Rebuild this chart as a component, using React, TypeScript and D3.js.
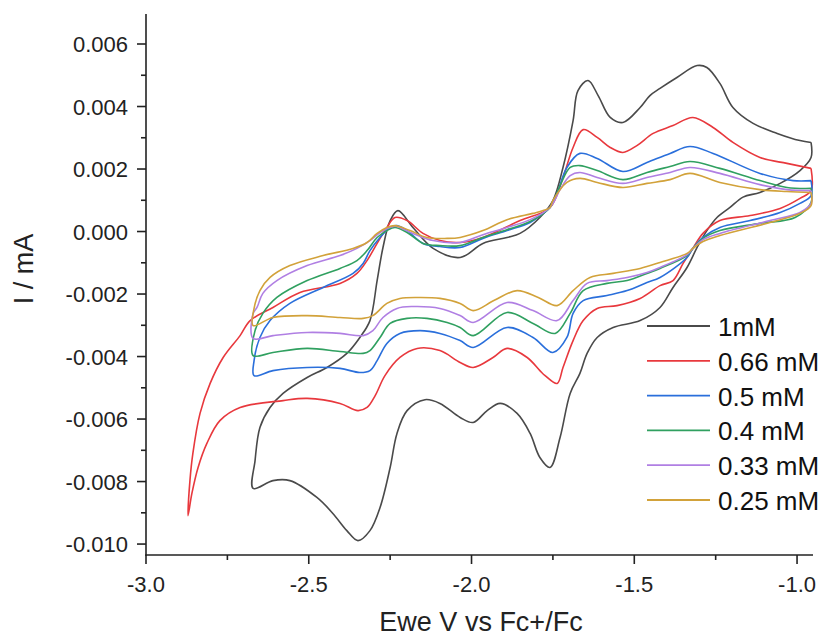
import React from "react";
import * as d3 from "d3";

type Pt = [number, number];

const seriesNames = ["1mM", "0.66 mM", "0.5 mM", "0.4 mM", "0.33 mM", "0.25 mM"];
const seriesColors = ["#4a4a4a", "#e8383d", "#2a6fdb", "#30a060", "#b07fe3", "#d2a23a"];

const xTicks = [-3.0, -2.5, -2.0, -1.5, -1.0];
const xMinor = [-2.75, -2.25, -1.75, -1.25];
const yTicks = [-0.01, -0.008, -0.006, -0.004, -0.002, 0, 0.002, 0.004, 0.006];
const yMinor = [-0.009, -0.007, -0.005, -0.003, -0.001, 0.001, 0.003, 0.005];

const cv1mM: Pt[] = [
  [-0.957, 0.00285], [-0.957, 0.00237], [-0.991, 0.00195], [-1.052, 0.00154], [-1.114, 0.00125],
  [-1.166, 0.0011], [-1.206, 0.00077], [-1.246, 0.00045], [-1.277, 0.00003], [-1.307, -0.00051],
  [-1.338, -0.00115], [-1.381, -0.00179], [-1.421, -0.00243], [-1.482, -0.00285], [-1.565, -0.00307],
  [-1.614, -0.00339], [-1.645, -0.0039], [-1.667, -0.00454], [-1.697, -0.00518], [-1.728, -0.00659],
  [-1.759, -0.00755], [-1.79, -0.00723], [-1.82, -0.00646], [-1.86, -0.00582], [-1.912, -0.0055],
  [-1.952, -0.00573], [-1.995, -0.00611], [-2.035, -0.00595], [-2.097, -0.0055], [-2.143, -0.00538],
  [-2.198, -0.00573], [-2.229, -0.00646], [-2.25, -0.00755], [-2.281, -0.00883], [-2.312, -0.00957],
  [-2.349, -0.00989], [-2.383, -0.00957], [-2.426, -0.00902], [-2.475, -0.00851], [-2.558, -0.00797],
  [-2.61, -0.00797], [-2.671, -0.00822],
  [-2.665, -0.00733], [-2.65, -0.00627], [-2.619, -0.00563], [-2.579, -0.00518], [-2.505, -0.00467],
  [-2.444, -0.00435], [-2.383, -0.0039], [-2.343, -0.00339], [-2.312, -0.00285], [-2.29, -0.00157],
  [-2.272, -0.00051], [-2.25, 0.00035], [-2.226, 0.00067], [-2.18, 0.00013], [-2.118, -0.00054],
  [-2.035, -0.00083], [-1.965, -0.00038], [-1.891, -0.00019], [-1.851, -0.00006], [-1.79, 0.00045],
  [-1.75, 0.00099], [-1.719, 0.00205], [-1.688, 0.00355], [-1.673, 0.00451], [-1.642, 0.00483],
  [-1.611, 0.00435], [-1.574, 0.00365], [-1.535, 0.00349], [-1.482, 0.00397], [-1.452, 0.00435],
  [-1.421, 0.00458], [-1.369, 0.00493], [-1.307, 0.00531], [-1.277, 0.00525], [-1.237, 0.00474],
  [-1.197, 0.00397], [-1.135, 0.00346], [-1.061, 0.00314], [-0.991, 0.00291], [-0.957, 0.00285],
];

const cv066mM: Pt[] = [
  [-0.957, 0.00202], [-0.957, 0.00131], [-0.991, 0.00106], [-1.052, 0.00074], [-1.144, 0.00051],
  [-1.237, 0.00035], [-1.289, -0.00006], [-1.32, -0.00054], [-1.35, -0.00102], [-1.381, -0.00157],
  [-1.421, -0.00173], [-1.482, -0.00214], [-1.553, -0.00237], [-1.614, -0.00246], [-1.657, -0.00285],
  [-1.688, -0.00349], [-1.719, -0.00435], [-1.737, -0.00486], [-1.774, -0.00461], [-1.79, -0.00445],
  [-1.829, -0.00403], [-1.891, -0.00374], [-1.934, -0.00403], [-1.995, -0.00435], [-2.035, -0.00419],
  [-2.097, -0.00381], [-2.167, -0.00374], [-2.22, -0.00403], [-2.266, -0.00461], [-2.296, -0.00525],
  [-2.321, -0.00563], [-2.349, -0.00573], [-2.404, -0.0055], [-2.505, -0.00534], [-2.579, -0.00541],
  [-2.711, -0.00563], [-2.773, -0.00605], [-2.813, -0.00678], [-2.84, -0.00755], [-2.859, -0.00838],
  [-2.871, -0.00909],
  [-2.865, -0.00797], [-2.856, -0.0071], [-2.834, -0.00582], [-2.803, -0.00486], [-2.763, -0.00403],
  [-2.711, -0.00333], [-2.68, -0.00285], [-2.61, -0.00243], [-2.527, -0.00195], [-2.404, -0.00166],
  [-2.352, -0.00134], [-2.321, -0.00093], [-2.29, -0.00038], [-2.26, 0.00013], [-2.235, 0.00045],
  [-2.198, 0.00035], [-2.149, -0.00006], [-2.097, -0.00029], [-2.035, -0.00035], [-1.965, -0.00019],
  [-1.851, 0.00035], [-1.759, 0.00077], [-1.719, 0.00173], [-1.688, 0.00269], [-1.657, 0.00326],
  [-1.614, 0.00301], [-1.574, 0.00269], [-1.535, 0.00253], [-1.492, 0.00275], [-1.442, 0.00314],
  [-1.381, 0.00339], [-1.32, 0.00365], [-1.258, 0.00333], [-1.197, 0.00285], [-1.114, 0.00237],
  [-1.031, 0.00218], [-0.957, 0.00202],
];

const cv05mM: Pt[] = [
  [-0.957, 0.00163], [-0.957, 0.00115], [-0.991, 0.0009], [-1.052, 0.00061], [-1.144, 0.00035],
  [-1.237, 0.00013], [-1.289, -0.00019], [-1.32, -0.00054], [-1.338, -0.00083], [-1.421, -0.00147],
  [-1.461, -0.00163], [-1.522, -0.00189], [-1.584, -0.00205], [-1.657, -0.00221], [-1.688, -0.00262],
  [-1.707, -0.00339], [-1.75, -0.00387], [-1.811, -0.00339], [-1.891, -0.00307], [-1.995, -0.00371],
  [-2.035, -0.00349], [-2.097, -0.00326], [-2.158, -0.00317], [-2.22, -0.00326], [-2.26, -0.00358],
  [-2.29, -0.00413], [-2.312, -0.00445], [-2.343, -0.00451], [-2.404, -0.00438], [-2.505, -0.00435],
  [-2.61, -0.00445], [-2.668, -0.00461],
  [-2.668, -0.00413], [-2.65, -0.00339], [-2.619, -0.00285], [-2.558, -0.0023], [-2.456, -0.00179],
  [-2.364, -0.00134], [-2.333, -0.00102], [-2.312, -0.00061], [-2.281, -0.00019], [-2.25, 0.00013],
  [-2.229, 0.00019], [-2.198, 0.00003], [-2.149, -0.00038], [-2.097, -0.00048], [-2.035, -0.00051],
  [-1.965, -0.00022], [-1.891, 0.00003], [-1.82, 0.00029], [-1.78, 0.00058], [-1.759, 0.00077],
  [-1.737, 0.00122], [-1.707, 0.00205], [-1.667, 0.0025], [-1.614, 0.00234], [-1.535, 0.00192],
  [-1.461, 0.00221], [-1.39, 0.0025], [-1.329, 0.00272], [-1.258, 0.0025], [-1.114, 0.00186],
  [-1.012, 0.00163], [-0.957, 0.00163],
];

const cv04mM: Pt[] = [
  [-0.957, 0.00138], [-0.957, 0.00093], [-1.006, 0.00045], [-1.114, 0.00026], [-1.237, 0.00003],
  [-1.289, -0.00022], [-1.32, -0.00054], [-1.338, -0.00077], [-1.421, -0.00118], [-1.461, -0.00134],
  [-1.522, -0.00157], [-1.584, -0.00166], [-1.657, -0.00189], [-1.697, -0.00262], [-1.743, -0.00326],
  [-1.811, -0.00294], [-1.891, -0.00259], [-1.995, -0.00333], [-2.035, -0.00307], [-2.075, -0.00291],
  [-2.137, -0.00278], [-2.198, -0.00278], [-2.25, -0.00294], [-2.281, -0.00339], [-2.312, -0.00381],
  [-2.333, -0.0039], [-2.404, -0.00384], [-2.505, -0.00374], [-2.61, -0.00387], [-2.671, -0.00397],
  [-2.665, -0.00317], [-2.641, -0.00262], [-2.598, -0.00211], [-2.505, -0.00157], [-2.404, -0.00118],
  [-2.352, -0.00093], [-2.321, -0.00061], [-2.29, -0.00019], [-2.26, 0.00003], [-2.235, 0.00013],
  [-2.198, -0.00003], [-2.149, -0.00038], [-2.097, -0.00045], [-2.035, -0.00045], [-1.965, -0.00019],
  [-1.891, 0.00006], [-1.82, 0.00032], [-1.759, 0.00077], [-1.728, 0.00147], [-1.697, 0.00205],
  [-1.667, 0.00211], [-1.614, 0.00195], [-1.535, 0.00166], [-1.461, 0.00189], [-1.39, 0.00208],
  [-1.329, 0.00224], [-1.237, 0.00202], [-1.114, 0.00163], [-1.031, 0.00141], [-0.957, 0.00138],
];

const cv033mM: Pt[] = [
  [-0.957, 0.00131], [-0.957, 0.0009], [-0.991, 0.00061], [-1.083, 0.00035], [-1.237, -0.00006],
  [-1.289, -0.00026], [-1.32, -0.00054], [-1.338, -0.00074], [-1.421, -0.00115], [-1.461, -0.00131],
  [-1.522, -0.00147], [-1.584, -0.00157], [-1.645, -0.00166], [-1.688, -0.00221], [-1.737, -0.00285],
  [-1.811, -0.00253], [-1.891, -0.00227], [-1.995, -0.00291], [-2.035, -0.00269], [-2.097, -0.00246],
  [-2.18, -0.0024], [-2.229, -0.00246], [-2.272, -0.00275], [-2.303, -0.00317], [-2.333, -0.00333],
  [-2.404, -0.00326], [-2.505, -0.00323], [-2.61, -0.00333], [-2.671, -0.00342],
  [-2.671, -0.00262], [-2.659, -0.00243], [-2.641, -0.00198], [-2.598, -0.00157], [-2.505, -0.00109],
  [-2.404, -0.00077], [-2.352, -0.00054], [-2.312, -0.00029], [-2.281, -0.00003], [-2.241, 0.00016],
  [-2.229, 0.00016], [-2.18, -0.00006], [-2.118, -0.00029], [-2.035, -0.00035], [-1.965, -0.0001],
  [-1.891, 0.00013], [-1.82, 0.00038], [-1.759, 0.00077], [-1.728, 0.00134], [-1.697, 0.00179],
  [-1.667, 0.00189], [-1.614, 0.00173], [-1.535, 0.00154], [-1.461, 0.00173], [-1.39, 0.00189],
  [-1.329, 0.00205], [-1.237, 0.00186], [-1.114, 0.0015], [-1.031, 0.00134], [-0.957, 0.00131],
];

const cv025mM: Pt[] = [
  [-0.957, 0.00125], [-0.957, 0.00083], [-0.991, 0.00058], [-1.083, 0.00029], [-1.237, -0.00013],
  [-1.289, -0.00032], [-1.32, -0.00054], [-1.338, -0.0007], [-1.421, -0.00099], [-1.482, -0.00118],
  [-1.565, -0.00134], [-1.636, -0.00147], [-1.688, -0.00189], [-1.737, -0.00237], [-1.795, -0.00211],
  [-1.86, -0.00189], [-1.93, -0.0022], [-1.995, -0.00253], [-2.035, -0.0023], [-2.097, -0.00214],
  [-2.158, -0.00211], [-2.22, -0.00214], [-2.26, -0.0023], [-2.303, -0.00269], [-2.333, -0.00278],
  [-2.404, -0.00275], [-2.505, -0.00269], [-2.61, -0.00275], [-2.671, -0.00301],
  [-2.668, -0.00246], [-2.65, -0.00189], [-2.619, -0.00147], [-2.558, -0.00109], [-2.456, -0.00077],
  [-2.364, -0.00054], [-2.321, -0.00035], [-2.29, -0.00006], [-2.26, 0.00013], [-2.235, 0.00019],
  [-2.189, 0.00003], [-2.137, -0.00019], [-2.075, -0.00022], [-2.035, -0.00019], [-1.965, 0.00003],
  [-1.891, 0.00038], [-1.811, 0.00058], [-1.78, 0.00067], [-1.759, 0.00077], [-1.75, 0.00099],
  [-1.707, 0.00157], [-1.667, 0.0017], [-1.614, 0.00157], [-1.535, 0.00141], [-1.461, 0.00154],
  [-1.39, 0.00166], [-1.329, 0.00186], [-1.237, 0.00157], [-1.114, 0.00134], [-1.031, 0.00128],
  [-0.957, 0.00125],
];

const seriesData: Pt[][] = [cv1mM, cv066mM, cv05mM, cv04mM, cv033mM, cv025mM];

const W = 829;
const H = 639;
const left = 146;
const right = 813;
const top = 14;
const bottom = 555;
const FONT = "'Liberation Sans', Arial, Helvetica, sans-serif";
const AX = "#222";

export default function App() {
  const x = d3.scaleLinear().domain([-3.0, -0.951]).range([left, right]);
  const y = d3.scaleLinear().domain([-0.01035, 0.00696]).range([bottom, top]);
  const line = d3
    .line<Pt>()
    .x((d) => x(d[0]))
    .y((d) => y(d[1]))
    .curve(d3.curveCatmullRom.alpha(0.5));

  const fmtY = (v: number) => {
    const s = Math.abs(v).toFixed(3);
    return (v < -1e-12 ? "-" : "") + s;
  };
  const fmtX = (v: number) => (v < 0 ? "-" : "") + Math.abs(v).toFixed(1);

  const legendY0 = 326;
  const legendDy = 34.8;

  return (
    <svg
      width={W}
      height={H}
      viewBox={`0 0 ${W} ${H}`}
      style={{ position: "absolute", left: 0, top: 0, background: "#fff" }}
      fontFamily={FONT}
    >
      <rect x={0} y={0} width={W} height={H} fill="#fff" />
      <g fill="none" strokeWidth={1.6} strokeLinejoin="round">
        {seriesData.map((d, i) => (
          <path key={i} d={line(d) || ""} stroke={seriesColors[i]} />
        ))}
      </g>
      <g stroke={AX} strokeWidth={1.6}>
        <line x1={left} x2={left} y1={top} y2={bottom + 0.8} />
        <line x1={left - 0.8} x2={right} y1={bottom} y2={bottom} />
        {yTicks.map((t) => (
          <line key={"yt" + t} x1={left - 9} x2={left} y1={y(t)} y2={y(t)} />
        ))}
        {yMinor.map((t) => (
          <line key={"ym" + t} x1={left - 5} x2={left} y1={y(t)} y2={y(t)} />
        ))}
        {xTicks.map((t) => (
          <line key={"xt" + t} x1={x(t)} x2={x(t)} y1={bottom} y2={bottom + 9} />
        ))}
        {xMinor.map((t) => (
          <line key={"xm" + t} x1={x(t)} x2={x(t)} y1={bottom} y2={bottom + 5} />
        ))}
      </g>
      <g fill={AX} fontSize={22}>
        {yTicks.map((t) => (
          <text key={"yl" + t} x={left - 18} y={y(t) + 8} textAnchor="end">
            {fmtY(t)}
          </text>
        ))}
        {xTicks.map((t) => (
          <text key={"xl" + t} x={x(t)} y={592} textAnchor="middle">
            {fmtX(t)}
          </text>
        ))}
      </g>
      <text x={481} y={631} textAnchor="middle" fontSize={27} fill={AX}>
        Ewe V vs Fc+/Fc
      </text>
      <text
        transform={`translate(33,269) rotate(-90)`}
        textAnchor="middle"
        fontSize={27}
        fill={AX}
      >
        I / mA
      </text>
      <g>
        {seriesNames.map((n, i) => (
          <g key={n}>
            <line
              x1={647}
              x2={710}
              y1={legendY0 + i * legendDy}
              y2={legendY0 + i * legendDy}
              stroke={seriesColors[i]}
              strokeWidth={1.8}
            />
            <text x={718} y={legendY0 + i * legendDy + 10} fontSize={26} fill="#111">
              {n}
            </text>
          </g>
        ))}
      </g>
    </svg>
  );
}
